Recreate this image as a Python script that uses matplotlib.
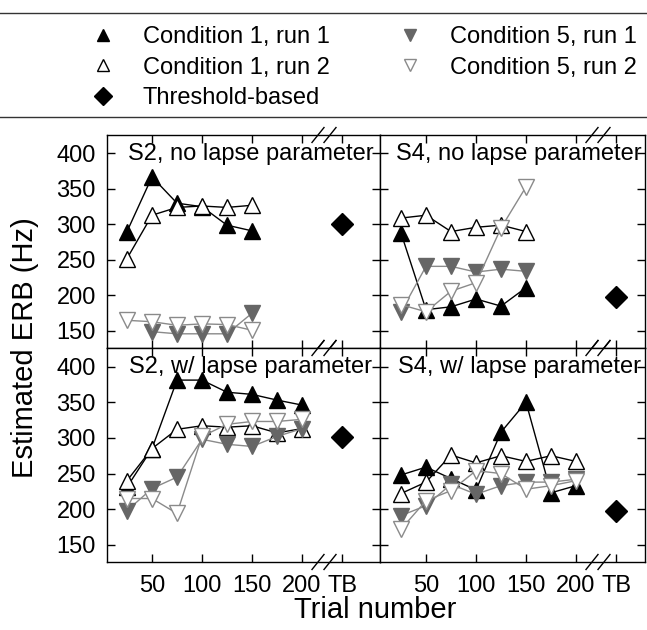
import numpy as np
import matplotlib
matplotlib.use("Agg")
import matplotlib.pyplot as plt
from matplotlib.lines import Line2D

plt.rcParams["font.family"] = ["Liberation Sans", "DejaVu Sans"]

# ---------------------------------------------------------------------------
# Data
# ---------------------------------------------------------------------------
TRIALS = [25, 50, 75, 100, 125, 150, 175, 200]
TB_POS = 240
TICK_POS = [50, 100, 150, 200, TB_POS]
TICK_LABELS = ["50", "100", "150", "200", "TB"]
NAN = np.nan

# S2, no lapse parameter
s2_nolapse_c1r1 = [290, 367, 330, 325, 299, 291, NAN, NAN]
s2_nolapse_c1r2 = [252, 313, 324, 326, 324, 327, NAN, NAN]
s2_nolapse_c5r1 = [NAN, 149, 146, 146, 146, 175, NAN, NAN]
s2_nolapse_c5r2 = [165, 163, 158, 160, 159, 151, NAN, NAN]
s2_tb = 301

# S4, no lapse parameter
s4_nolapse_c1r1 = [288, 180, 184, 195, 185, 211, NAN, NAN]
s4_nolapse_c1r2 = [309, 313, 290, 296, 299, 290, NAN, NAN]
s4_nolapse_c5r1 = [177, 241, 241, 233, 237, 234, NAN, NAN]
s4_nolapse_c5r2 = [187, 177, 206, 218, 295, 353, NAN, NAN]
s4_tb = 198

# S2, w/ lapse parameter
s2_lapse_c1r1 = [231, 285, 381, 381, 364, 361, 353, 346]
s2_lapse_c1r2 = [240, 285, 312, 317, 315, 317, 307, 313]
s2_lapse_c5r1 = [198, 229, 245, 298, 291, 288, 302, 313]
s2_lapse_c5r2 = [215, 215, 194, 302, 319, 323, 323, 326]

# S4, w/ lapse parameter
s4_lapse_c1r1 = [248, 259, 243, 227, 308, 350, 223, 233]
s4_lapse_c1r2 = [222, 238, 276, 265, 275, 267, 275, 267]
s4_lapse_c5r1 = [191, 205, 235, 221, 233, 238, 238, 242]
s4_lapse_c5r2 = [172, 212, 226, 254, 250, 228, 233, 240]

PANEL_TITLES = ["S2, no lapse parameter", "S4, no lapse parameter",
                "S2, w/ lapse parameter", "S4, w/ lapse parameter"]
LEGEND_LABELS = ["Condition 1, run 1", "Condition 1, run 2", "Threshold-based",
                 "Condition 5, run 1", "Condition 5, run 2"]

# ---------------------------------------------------------------------------
# Styles
# ---------------------------------------------------------------------------
GRAY_LINE = "#8a8a8a"
GRAY_FILL = "#666666"
MS = 11
STYLES = [
    dict(marker="^", color="black", mfc="black", mec="black"),
    dict(marker="^", color="black", mfc="white", mec="black"),
    dict(marker="v", color=GRAY_LINE, mfc=GRAY_FILL, mec=GRAY_FILL),
    dict(marker="v", color=GRAY_LINE, mfc="white", mec=GRAY_LINE),
]


def draw_break(ax, x0, x1):
    tr = ax.get_xaxis_transform()
    for yc in (0, 1):
        for xc in (x0, x1):
            ax.plot([xc - 6, xc + 6], [yc - 0.035, yc + 0.035], color="black",
                    lw=1.0, transform=tr, clip_on=False, zorder=10)


def draw_panel(ax, series, tb, title, xlim, show_x, show_y):
    for vals, st in zip(series, STYLES):
        ax.plot(TRIALS, vals, lw=1.0, ms=MS, mew=1.0, **st)
    ax.plot([TB_POS], [tb], marker="D", color="black", ms=11, ls="none")
    ax.set_xlim(*xlim)
    ax.set_ylim(126, 426)
    ax.set_xticks(TICK_POS)
    ax.set_yticks([150, 200, 250, 300, 350, 400])
    ax.tick_params(direction="in", length=6, width=1.0, top=True, right=True,
                   labelsize=17, labelbottom=show_x, labelleft=show_y)
    ax.tick_params(axis="x", pad=9)
    ax.tick_params(axis="y", pad=8)
    if show_x:
        ax.set_xticklabels(TICK_LABELS)
    ax.text(0.525, 0.91, title, transform=ax.transAxes, ha="center",
            va="center", fontsize=17)
    for sp in ax.spines.values():
        sp.set_linewidth(1.0)
    draw_break(ax, 216, 228)


fig = plt.figure(figsize=(6.47, 6.30), dpi=100)
W, H = 647.0, 630.0


def px_axes(x0, x1, y0, y1):
    return fig.add_axes([x0 / W, 1 - y1 / H, (x1 - x0) / W, (y1 - y0) / H])


ax_tl = px_axes(107, 380, 135, 348)
ax_tr = px_axes(380, 645, 135, 348)
ax_bl = px_axes(107, 380, 348, 562)
ax_br = px_axes(380, 645, 348, 562)

draw_panel(ax_tl, [s2_nolapse_c1r1, s2_nolapse_c1r2, s2_nolapse_c5r1, s2_nolapse_c5r2],
           s2_tb, PANEL_TITLES[0], (5, 278), False, True)
draw_panel(ax_tr, [s4_nolapse_c1r1, s4_nolapse_c1r2, s4_nolapse_c5r1, s4_nolapse_c5r2],
           s4_tb, PANEL_TITLES[1], (4, 269), False, False)
draw_panel(ax_bl, [s2_lapse_c1r1, s2_lapse_c1r2, s2_lapse_c5r1, s2_lapse_c5r2],
           s2_tb, PANEL_TITLES[2], (5, 278), True, True)
draw_panel(ax_br, [s4_lapse_c1r1, s4_lapse_c1r2, s4_lapse_c5r1, s4_lapse_c5r2],
           s4_tb, PANEL_TITLES[3], (4, 269), True, False)

fig.text(375 / W, 1 - 610 / H, "Trial number", ha="center", va="center", fontsize=21)
fig.text(25 / W, 1 - 348 / H, "Estimated ERB (Hz)", ha="center", va="center",
         rotation=90, fontsize=21)

# Legend (box runs past the image edges, so only top/bottom rules show)
LEG_MS = 9
handles = [
    Line2D([], [], ls="none", ms=LEG_MS, **STYLES[0]),
    Line2D([], [], ls="none", ms=LEG_MS, **STYLES[1]),
    Line2D([], [], ls="none", marker="D", color="black", ms=LEG_MS),
    Line2D([], [], ls="none", ms=LEG_MS, **STYLES[2]),
    Line2D([], [], ls="none", ms=LEG_MS, **STYLES[3]),
]
fig.legend(handles, LEGEND_LABELS, ncol=2, loc="upper left",
           bbox_to_anchor=(91 / W, 1 - 26 / H), frameon=False,
           fontsize=17, handlelength=1.0, handletextpad=1.2,
           borderaxespad=0, borderpad=0, labelspacing=0.37,
           columnspacing=2.9)
for ypx in (13, 117):
    fig.add_artist(Line2D([0, 1], [1 - ypx / H] * 2, transform=fig.transFigure,
                          color="#333333", lw=1.0))

fig.savefig("out.png", dpi=100)
